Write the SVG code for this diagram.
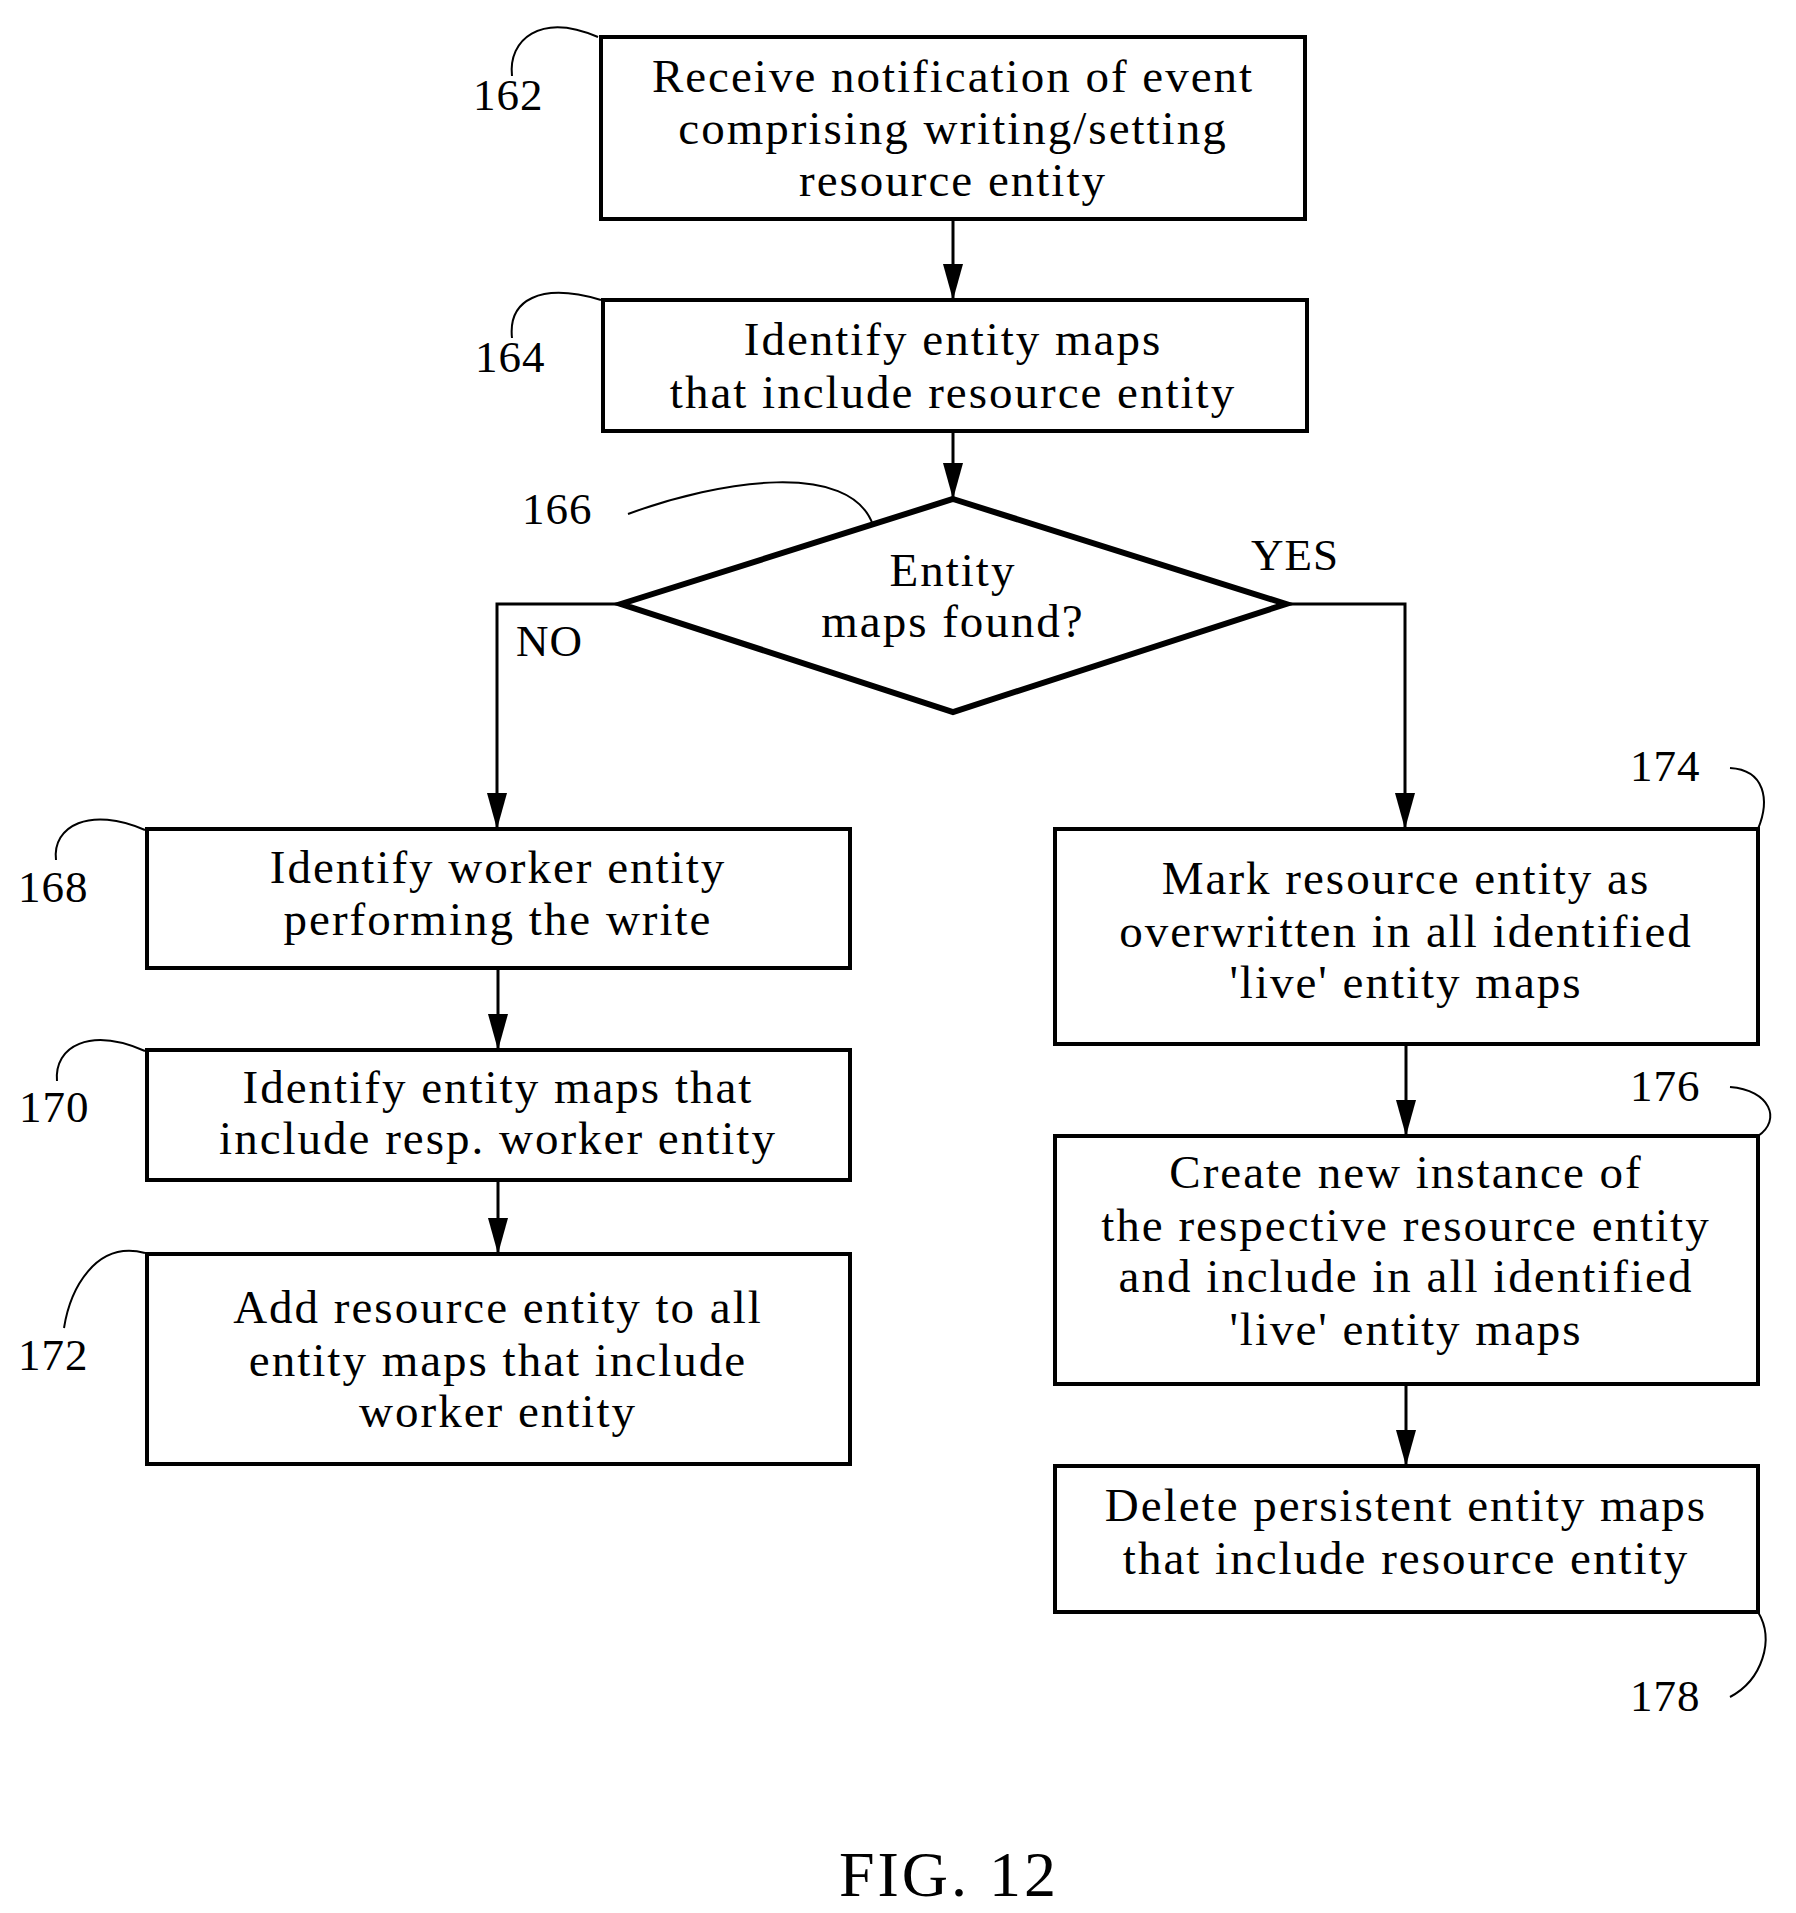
<svg xmlns="http://www.w3.org/2000/svg" width="1796" height="1913" viewBox="0 0 1796 1913">
<style>
.b{fill:#fff;stroke:#000;stroke-width:4}
.d{fill:#fff;stroke:#000;stroke-width:6}
.t{font-family:"Liberation Serif",serif;font-size:47px;letter-spacing:2px;text-anchor:middle;fill:#000}
.l{font-family:"Liberation Serif",serif;font-size:45px;letter-spacing:1px;fill:#000}
.c{fill:none;stroke:#000;stroke-width:3}
.k{fill:none;stroke:#000;stroke-width:2}
</style>
<defs>
<marker id="ah" viewBox="0 0 36 20" refX="36" refY="10" markerWidth="36" markerHeight="20" orient="auto" markerUnits="userSpaceOnUse"><path d="M0,0L36,10L0,20z"/></marker></defs>
<g id="connectors">
<path class="c" d="M953,219V300" marker-end="url(#ah)"/>
<path class="c" d="M953,431V499" marker-end="url(#ah)"/>
<path class="c" d="M621,604H497V829" marker-end="url(#ah)"/>
<path class="c" d="M1286,604H1405V829" marker-end="url(#ah)"/>
<path class="c" d="M498,968V1050" marker-end="url(#ah)"/>
<path class="c" d="M498,1180V1254" marker-end="url(#ah)"/>
<path class="c" d="M1406,1044V1136" marker-end="url(#ah)"/>
<path class="c" d="M1406,1384V1466" marker-end="url(#ah)"/>
<text class="l" x="1251" y="570">YES</text>
<text class="l" x="516" y="656">NO</text>
</g>
<g id="n162"><rect class="b" x="601" y="37" width="704" height="182"/>
<text class="t" x="953" y="92">Receive notification of event</text><text class="t" x="953" y="144">comprising writing/setting</text><text class="t" x="953" y="196">resource entity</text>
<path class="k" d="M512,76C508,40 540,12 598,37"/><text class="l" x="473" y="110">162</text></g>
<g id="n164"><rect class="b" x="603" y="300" width="704" height="131"/>
<text class="t" x="953" y="355">Identify entity maps</text><text class="t" x="953" y="408">that include resource entity</text>
<path class="k" d="M512,338C508,300 540,282 601,300"/><text class="l" x="475" y="372">164</text></g>
<g id="n166"><polygon class="d" points="953,499 1286,604 953,712 621,604"/>
<text class="t" x="953" y="586">Entity</text><text class="t" x="953" y="637">maps found?</text>
<path class="k" d="M628,514C720,480 850,460 873,525"/><text class="l" x="522" y="524">166</text></g>
<g id="n168"><rect class="b" x="147" y="829" width="703" height="139"/>
<text class="t" x="498" y="883">Identify worker entity</text><text class="t" x="498" y="935">performing the write</text>
<path class="k" d="M56,860C52,826 90,806 145,830"/><text class="l" x="18" y="902">168</text></g>
<g id="n170"><rect class="b" x="147" y="1050" width="703" height="130"/>
<text class="t" x="498" y="1103">Identify entity maps that</text><text class="t" x="498" y="1154">include resp. worker entity</text>
<path class="k" d="M57,1081C54,1046 90,1027 145,1051"/><text class="l" x="19" y="1122">170</text></g>
<g id="n172"><rect class="b" x="147" y="1254" width="703" height="210"/>
<text class="t" x="498" y="1323">Add resource entity to all</text><text class="t" x="498" y="1376">entity maps that include</text><text class="t" x="498" y="1427">worker entity</text>
<path class="k" d="M64,1328C70,1290 95,1240 145,1253"/><text class="l" x="18" y="1370">172</text></g>
<g id="n174"><rect class="b" x="1055" y="829" width="703" height="215"/>
<text class="t" x="1406" y="894">Mark resource entity as</text><text class="t" x="1406" y="947">overwritten in all identified</text><text class="t" x="1406" y="998">'live' entity maps</text>
<path class="k" d="M1730,768C1765,770 1770,800 1758,829"/><text class="l" x="1630" y="781">174</text></g>
<g id="n176"><rect class="b" x="1055" y="1136" width="703" height="248"/>
<text class="t" x="1406" y="1188">Create new instance of</text><text class="t" x="1406" y="1241">the respective resource entity</text><text class="t" x="1406" y="1292">and include in all identified</text><text class="t" x="1406" y="1345">'live' entity maps</text>
<path class="k" d="M1730,1087C1770,1090 1782,1120 1758,1136"/><text class="l" x="1630" y="1101">176</text></g>
<g id="n178"><rect class="b" x="1055" y="1466" width="703" height="146"/>
<text class="t" x="1406" y="1521">Delete persistent entity maps</text><text class="t" x="1406" y="1574">that include resource entity</text>
<path class="k" d="M1758,1612C1775,1640 1762,1680 1730,1697"/><text class="l" x="1630" y="1711">178</text></g>
<text x="949" y="1896" style="font-family:'Liberation Serif',serif;font-size:64px;letter-spacing:3px;text-anchor:middle">FIG. 12</text>
</svg>
